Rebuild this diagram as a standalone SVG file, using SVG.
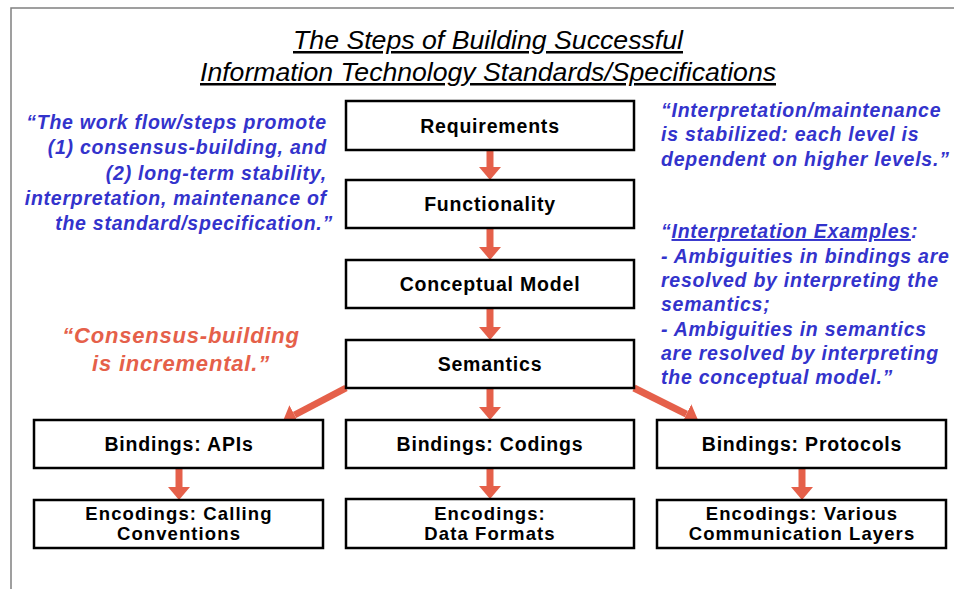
<svg xmlns="http://www.w3.org/2000/svg" width="954" height="589" viewBox="0 0 954 589">
<defs>
<style>
.frame{fill:none;stroke:#808080;stroke-width:1.5}
.box{fill:#fff;stroke:#000;stroke-width:2.5}
.bt{font-family:"Liberation Sans",Arial,sans-serif;font-weight:bold;font-size:19.5px;letter-spacing:0.8px;fill:#000;text-anchor:middle}
.bt2{font-family:"Liberation Sans",Arial,sans-serif;font-weight:bold;font-size:18.5px;letter-spacing:1.1px;fill:#000;text-anchor:middle}
.title{font-family:"Liberation Sans Narrow","Liberation Sans",Arial,sans-serif;font-style:italic;font-size:25px;fill:#000;text-anchor:middle;text-decoration:underline}
.blue{font-family:"Liberation Sans",Arial,sans-serif;font-weight:bold;font-style:italic;font-size:19.5px;letter-spacing:0.75px;fill:#3333CC}
.red{font-family:"Liberation Sans",Arial,sans-serif;font-weight:bold;font-style:italic;font-size:22px;letter-spacing:0.8px;fill:#E5604A;text-anchor:middle}
.arr{stroke:#E5604A;stroke-width:7;fill:none;marker-end:url(#ah)}
</style>
<marker id="ah" markerUnits="userSpaceOnUse" markerWidth="13" markerHeight="22" viewBox="0 0 13 22" refX="0" refY="11" orient="auto">
<path d="M0,0 L13,11 L0,22 z" fill="#E5604A"/>
</marker>
</defs>
<rect width="954" height="589" fill="#fff"/>
<path class="frame" d="M11,589 L11,8 L954,8"/>
<g id="title">
<text class="title" x="488" y="49" textLength="390" lengthAdjust="spacingAndGlyphs">The Steps of Building Successful</text>
<text class="title" x="488" y="81" textLength="576" lengthAdjust="spacingAndGlyphs">Information Technology Standards/Specifications</text>
</g>
<g id="note-left">
<text class="blue" text-anchor="end">
<tspan x="333" y="129">“The work flow/steps promote</tspan>
<tspan x="333" y="154">(1) consensus-building, and</tspan>
<tspan x="333" y="180">(2) long-term stability,</tspan>
<tspan x="333" y="205">interpretation, maintenance of</tspan>
<tspan x="333" y="230">the standard/specification.”</tspan>
</text>
</g>
<g id="note-right-top">
<text class="blue">
<tspan x="661" y="117">“Interpretation/maintenance</tspan>
<tspan x="661" y="141">is stabilized: each level is</tspan>
<tspan x="661" y="166">dependent on higher levels.”</tspan>
</text>
</g>
<g id="note-right-bottom">
<text class="blue">
<tspan x="661" y="238">“<tspan text-decoration="underline">Interpretation Examples</tspan>:</tspan>
<tspan x="661" y="263">- Ambiguities in bindings are</tspan>
<tspan x="661" y="287">resolved by interpreting the</tspan>
<tspan x="661" y="311">semantics;</tspan>
<tspan x="661" y="336">- Ambiguities in semantics</tspan>
<tspan x="661" y="360">are resolved by interpreting</tspan>
<tspan x="661" y="384">the conceptual model.”</tspan>
</text>
</g>
<g id="note-consensus">
<text class="red"><tspan x="181" y="343">“Consensus-building</tspan><tspan x="181" y="371">is incremental.”</tspan></text>
</g>
<g id="connectors">
<line class="arr" x1="490" y1="150" x2="490" y2="167"/>
<line class="arr" x1="490" y1="228" x2="490" y2="247"/>
<line class="arr" x1="490" y1="308" x2="490" y2="327"/>
<line class="arr" x1="490" y1="388" x2="490" y2="407"/>
<line class="arr" x1="346" y1="388" x2="294.5" y2="415"/>
<line class="arr" x1="634" y1="388" x2="686.4" y2="414.2"/>
<line class="arr" x1="179" y1="468" x2="179" y2="487"/>
<line class="arr" x1="490" y1="468" x2="490" y2="486"/>
<line class="arr" x1="802" y1="468" x2="802" y2="487"/>
</g>
<g id="requirements"><rect class="box" x="346" y="101" width="288" height="49"/><text class="bt" x="490" y="132.5">Requirements</text></g>
<g id="functionality"><rect class="box" x="346" y="180" width="288" height="48"/><text class="bt" x="490" y="211">Functionality</text></g>
<g id="conceptual-model"><rect class="box" x="346" y="260" width="288" height="48"/><text class="bt" x="490" y="291">Conceptual Model</text></g>
<g id="semantics"><rect class="box" x="346" y="340" width="288" height="48"/><text class="bt" x="490" y="371">Semantics</text></g>
<g id="bindings-apis"><rect class="box" x="34" y="420" width="289" height="48"/><text class="bt" x="179" y="451">Bindings: APIs</text></g>
<g id="bindings-codings"><rect class="box" x="346" y="420" width="288" height="48"/><text class="bt" x="490" y="451">Bindings: Codings</text></g>
<g id="bindings-protocols"><rect class="box" x="657" y="420" width="289" height="48"/><text class="bt" x="802" y="451">Bindings: Protocols</text></g>
<g id="encodings-calling"><rect class="box" x="34" y="500" width="289" height="48"/><text class="bt2"><tspan x="179" y="520">Encodings: Calling</tspan><tspan x="179" y="540">Conventions</tspan></text></g>
<g id="encodings-data"><rect class="box" x="346" y="499" width="288" height="49"/><text class="bt2"><tspan x="490" y="520">Encodings:</tspan><tspan x="490" y="540">Data Formats</tspan></text></g>
<g id="encodings-various"><rect class="box" x="657" y="500" width="289" height="48"/><text class="bt2"><tspan x="802" y="520">Encodings: Various</tspan><tspan x="802" y="540">Communication Layers</tspan></text></g>
</svg>
